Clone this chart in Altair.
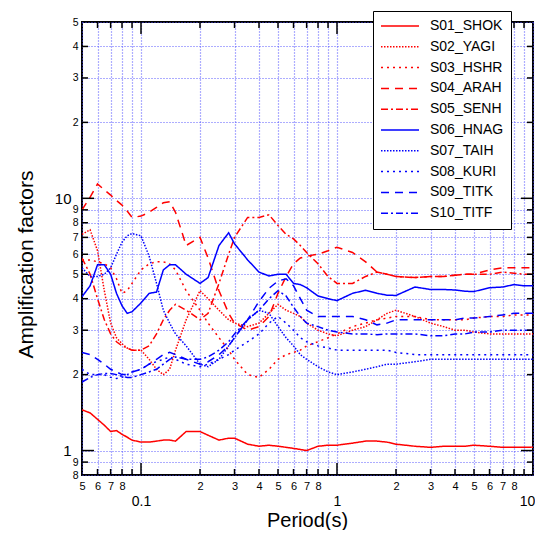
import json
import altair as alt
import pandas as pd

FONT = "Liberation Sans"

PERIODS = [0.05, 0.055, 0.06, 0.065, 0.07, 0.075, 0.08, 0.085, 0.09,
           0.1, 0.11, 0.12, 0.13, 0.14, 0.15, 0.17,
           0.2, 0.22, 0.25, 0.28, 0.3, 0.35, 0.4, 0.45, 0.5, 0.55, 0.6, 0.65, 0.7, 0.8, 0.9,
           1.0, 1.2, 1.4, 1.6, 1.8, 2.0, 2.5, 3.0, 3.5, 4.0, 4.5, 5.0, 6.0, 7.0, 8.0, 9.0, 10.0]

S01 = [1.45, 1.41, 1.33, 1.26, 1.19, 1.20, 1.16, 1.13, 1.10, 1.08,
       1.08, 1.09, 1.10, 1.10, 1.09, 1.19, 1.19, 1.15, 1.10, 1.12,
       1.12, 1.06, 1.04, 1.05, 1.04, 1.03, 1.02, 1.01, 1.00, 1.04,
       1.05, 1.05, 1.07, 1.09, 1.09, 1.08, 1.06, 1.04, 1.03, 1.04,
       1.04, 1.04, 1.05, 1.04, 1.03, 1.03, 1.03, 1.03]
S02 = [7.2, 7.5, 6.2, 4.3, 3.2, 2.8, 2.65, 2.55, 2.5, 2.5,
       2.3, 2.1, 2.0, 2.1, 2.5, 3.3, 4.3, 4.0, 3.6, 3.3,
       3.2, 3.1, 3.2, 3.5, 3.8, 3.6, 3.5, 3.4, 3.2, 3.0,
       2.9, 2.85, 3.0, 3.1, 3.3, 3.5, 3.6, 3.4, 3.2, 3.1,
       3.0, 3.0, 2.95, 2.9, 2.9, 2.9, 2.9, 2.9]
S03 = [5.7, 5.7, 5.6, 5.5, 5.3, 4.8, 4.2, 4.3, 4.6, 5.2,
       5.5, 5.6, 5.6, 5.5, 5.2, 4.3, 3.6, 3.2, 2.8, 2.5,
       2.3, 2.0, 1.95, 2.1, 2.3, 2.4, 2.45, 2.5, 2.6, 2.7,
       2.8, 2.9, 3.1, 3.2, 3.3, 3.35, 3.4, 3.4, 3.3, 3.3,
       3.3, 3.3, 3.35, 3.4, 3.4, 3.45, 3.45, 3.45]
S04 = [9.0, 10.1, 11.4, 10.8, 10.3, 9.8, 9.4, 8.9, 8.4, 8.5,
       8.8, 9.2, 9.6, 9.7, 8.8, 6.5, 7.0, 5.8, 4.3, 3.5,
       3.2, 3.0, 3.1, 3.4, 4.2, 4.9, 5.5, 5.8, 5.9, 6.0,
       6.2, 6.4, 6.1, 5.6, 5.1, 5.0, 4.9, 4.85, 4.9, 4.9,
       4.95, 5.0, 5.0, 5.2, 5.3, 5.3, 5.3, 5.3]
S05 = [5.8, 5.0, 4.0, 3.3, 2.9, 2.7, 2.6, 2.55, 2.5, 2.5,
       2.6, 2.9, 3.3, 3.6, 3.8, 3.6, 3.3, 3.5, 4.6, 6.0,
       7.0, 8.4, 8.4, 8.6, 7.8, 7.2, 6.9, 6.5, 6.1, 5.5,
       4.9, 4.6, 4.6, 4.9, 5.1, 5.0, 4.9, 4.85, 4.9, 4.9,
       4.95, 5.0, 5.0, 5.0, 5.1, 5.05, 5.0, 5.0]
S06 = [4.07, 4.5, 5.45, 5.45, 5.0, 4.2, 3.75, 3.5, 3.55, 3.85,
       4.2, 4.25, 5.2, 5.45, 5.45, 5.0, 4.6, 4.85, 6.5, 7.3,
       6.6, 5.7, 5.1, 4.92, 5.0, 5.0, 4.6, 4.55, 4.42, 4.1,
       4.0, 3.93, 4.2, 4.32, 4.2, 4.13, 4.12, 4.45, 4.35, 4.35,
       4.33, 4.28, 4.27, 4.42, 4.45, 4.55, 4.5, 4.5]
S07 = [5.3, 4.9, 4.9, 5.0, 5.3, 6.0, 6.7, 7.1, 7.25, 7.1,
       5.9, 4.6, 3.6, 3.2, 2.9, 2.6, 2.2, 2.15, 2.3, 2.6,
       2.8, 3.3, 3.6, 3.5, 3.1, 2.8, 2.6, 2.4, 2.3, 2.15,
       2.05, 2.0, 2.05, 2.1, 2.15, 2.2, 2.2, 2.25, 2.3, 2.3,
       2.3, 2.3, 2.3, 2.3, 2.3, 2.3, 2.3, 2.3]
S08 = [2.1, 2.0, 2.0, 2.0, 1.95, 1.93, 1.95, 2.0, 2.05, 2.1,
       2.2, 2.25, 2.3, 2.35, 2.3, 2.2, 2.15, 2.2, 2.3, 2.4,
       2.5, 2.7, 2.9, 3.2, 3.4, 3.2, 3.0, 2.8, 2.7, 2.6,
       2.55, 2.5, 2.5, 2.5, 2.5, 2.5, 2.45, 2.4, 2.4, 2.4,
       2.4, 2.4, 2.4, 2.4, 2.4, 2.4, 2.4, 2.4]
S09 = [2.45, 2.4, 2.3, 2.2, 2.1, 2.05, 2.0, 2.0, 2.05, 2.1,
       2.2, 2.3, 2.4, 2.45, 2.4, 2.3, 2.2, 2.25, 2.4, 2.6,
       2.8, 3.3, 3.9, 4.4, 4.7, 4.8, 4.5, 4.0, 3.6, 3.4,
       3.4, 3.4, 3.4, 3.3, 3.15, 3.2, 3.3, 3.3, 3.3, 3.3,
       3.3, 3.35, 3.35, 3.4, 3.45, 3.5, 3.5, 3.5]
S10 = [1.87, 1.95, 2.0, 2.02, 2.02, 2.0, 1.97, 1.95, 1.95, 2.0,
       2.05, 2.1, 2.2, 2.3, 2.35, 2.3, 2.3, 2.35, 2.5, 2.7,
       2.9, 3.3, 3.6, 4.0, 4.3, 4.1, 3.7, 3.4, 3.2, 3.1,
       3.0, 2.95, 2.9, 2.9, 2.88, 2.9, 2.9, 2.9, 2.85, 2.85,
       2.9, 2.9, 2.95, 2.95, 3.0, 3.0, 3.0, 3.0]

SERIES = ["S01_SHOK", "S02_YAGI", "S03_HSHR", "S04_ARAH", "S05_SENH",
          "S06_HNAG", "S07_TAIH", "S08_KURI", "S09_TITK", "S10_TITF"]
VALUES = [S01, S02, S03, S04, S05, S06, S07, S08, S09, S10]
COLORS = ["#ff0000"] * 5 + ["#0000ff"] * 5
DASHES = [[1, 0], [1.5, 1.5], [2, 4], [8, 6], [7, 3, 2, 3]] * 2

X_TICKS = [0.05, 0.06, 0.07, 0.08, 0.09, 0.1, 0.2, 0.3, 0.4, 0.5, 0.6, 0.7, 0.8, 0.9,
           1, 2, 3, 4, 5, 6, 7, 8, 9, 10]
X_LABELS = ["5", "6", "7", "8", "", "0.1", "2", "3", "4", "5", "6", "7", "8", "",
            "1", "2", "3", "4", "5", "6", "7", "8", "", "10"]
X_MAJOR = [0.1, 1, 10]
Y_TICKS = [0.8, 0.9, 1, 2, 3, 4, 5, 6, 7, 8, 9, 10, 20, 30, 40, 50]
Y_LABELS = ["8", "9", "1", "2", "3", "4", "5", "6", "7", "8", "9", "10", "2", "3", "4", "5"]
Y_MAJOR = [1, 10]

rows = []
for name, vals in zip(SERIES, VALUES):
    for p, v in zip(PERIODS, vals):
        rows.append({"series": name, "period": p, "amp": v})
df = pd.DataFrame(rows)

W, H = 451, 453
xscale = alt.Scale(type="log", domain=[0.05, 10], nice=False)
yscale = alt.Scale(type="log", domain=[0.8, 50], nice=False)

NB = "\u00a0"
def keys(vals):
    return [round(v * 1000) for v in vals]

x_major_test = f"indexof({json.dumps(keys(X_MAJOR))}, round(datum.value*1000)) >= 0"
y_major_test = f"indexof({json.dumps(keys(Y_MAJOR))}, round(datum.value*1000)) >= 0"
x_pick = f"{json.dumps(X_LABELS)}[indexof({json.dumps(keys(X_TICKS))}, round(datum.value*1000))]"
y_pick = f"{json.dumps(Y_LABELS)}[indexof({json.dumps(keys(Y_TICKS))}, round(datum.value*1000))]"
x_lab = f"({x_major_test}) ? ['', {x_pick}] : {x_pick}"
y_lab_minor = f"({y_major_test}) ? '' : {y_pick}"

GRID = dict(grid=True, gridColor="#4a4aff", gridDash=[1, 2], gridWidth=1.2, gridOpacity=0.9)

xaxis = alt.Axis(values=X_TICKS, labelExpr=x_lab, ticks=False, domain=False,
                 labelOverlap=False, labelFlush=False, labelBound=False,
                 labelFont=FONT, labelColor="black", labelPadding=5, labelLineHeight=14,
                 labelFontSize={"condition": {"test": x_major_test, "value": 14}, "value": 11},
                 labelOffset={"condition": {"test": "datum.value >= 9.99", "value": -6}, "value": 0},
                 title="Period(s)", titleFont=FONT, titleFontSize=20, titleFontWeight="normal",
                 titleColor="black", titleX=225, titleY=51, titleAlign="center",
                 titleBaseline="alphabetic", **GRID)
yaxis = alt.Axis(values=Y_TICKS, labelExpr=y_lab_minor, ticks=False, domain=False, orient="left",
                 labelOverlap=False, labelFlush=False, labelBound=False,
                 labelFont=FONT, labelColor="black", labelPadding=4, labelFontSize=10.5,
                 title="Amplification factors", titleFont=FONT, titleFontSize=21,
                 titleFontWeight="normal", titleColor="black", titleX=-56, titleY=242,
                 titleAngle=270, titleAlign="center", titleBaseline="middle", **GRID)
yaxis_major = alt.Axis(values=Y_MAJOR, labelExpr=y_pick, ticks=False, domain=False, orient="left",
                       grid=False, labelOverlap=False, labelFlush=False, labelBound=False,
                       labelFont=FONT, labelColor="black", labelPadding=11, labelFontSize=15,
                       title=None)

leg = alt.Legend(orient="none", legendX=291, legendY=-11, title=None,
                 symbolType="stroke", symbolSize=1444, symbolStrokeWidth=1.5,
                 clipHeight=16, rowPadding=4.8, padding=7,
                 labelFont=FONT, labelFontSize=14, labelColor="black", labelOffset=10,
                 labelExpr=f"datum.label + '{NB}{NB}{NB}'", labelLimit=0,
                 fillColor="white", strokeColor="black")

lines = alt.Chart(df).mark_line(strokeWidth=1.5, clip=True).encode(
    x=alt.X("period:Q", scale=xscale, axis=xaxis),
    y=alt.Y("amp:Q", scale=yscale, axis=yaxis),
    color=alt.Color("series:N", scale=alt.Scale(domain=SERIES, range=COLORS), legend=leg),
    strokeDash=alt.StrokeDash("series:N", scale=alt.Scale(domain=SERIES, range=DASHES), legend=leg),
)

xt_minor = pd.DataFrame({"period": [v for v in X_TICKS[1:-1] if v not in X_MAJOR]})
xt_major = pd.DataFrame({"period": [v for v in X_MAJOR if v < 10]})
yt_minor = pd.DataFrame({"amp": [v for v in Y_TICKS[1:-1] if v not in Y_MAJOR]})
yt_major = pd.DataFrame({"amp": Y_MAJOR})

def xrules(d, length):
    base = alt.Chart(d).mark_rule(color="black", strokeWidth=1.5)
    xe = alt.X("period:Q", scale=xscale)
    return [base.encode(x=xe, y=alt.value(H), y2=alt.value(H - length)),
            base.encode(x=xe, y=alt.value(0), y2=alt.value(length))]

def yrules(d, length, axis_left=None):
    base = alt.Chart(d).mark_rule(color="black", strokeWidth=1.5)
    return [base.encode(y=alt.Y("amp:Q", scale=yscale, axis=axis_left), x=alt.value(0), x2=alt.value(length)),
            base.encode(y=alt.Y("amp:Q", scale=yscale, axis=None), x=alt.value(W), x2=alt.value(W - length))]

layers = ([lines] + xrules(xt_minor, 6) + xrules(xt_major, 12)
          + yrules(yt_minor, 6) + yrules(yt_major, 12, yaxis_major))

chart = alt.layer(*layers).resolve_axis(y="independent").properties(
    width=W, height=H,
    padding={"left": 74, "top": 14, "right": 2, "bottom": 55},
    autosize=alt.AutoSizeParams(type="none"),
    background="white",
).configure_view(stroke="black", strokeWidth=2)

chart.save("out.html", embed_options={"renderer": "svg", "actions": False})
